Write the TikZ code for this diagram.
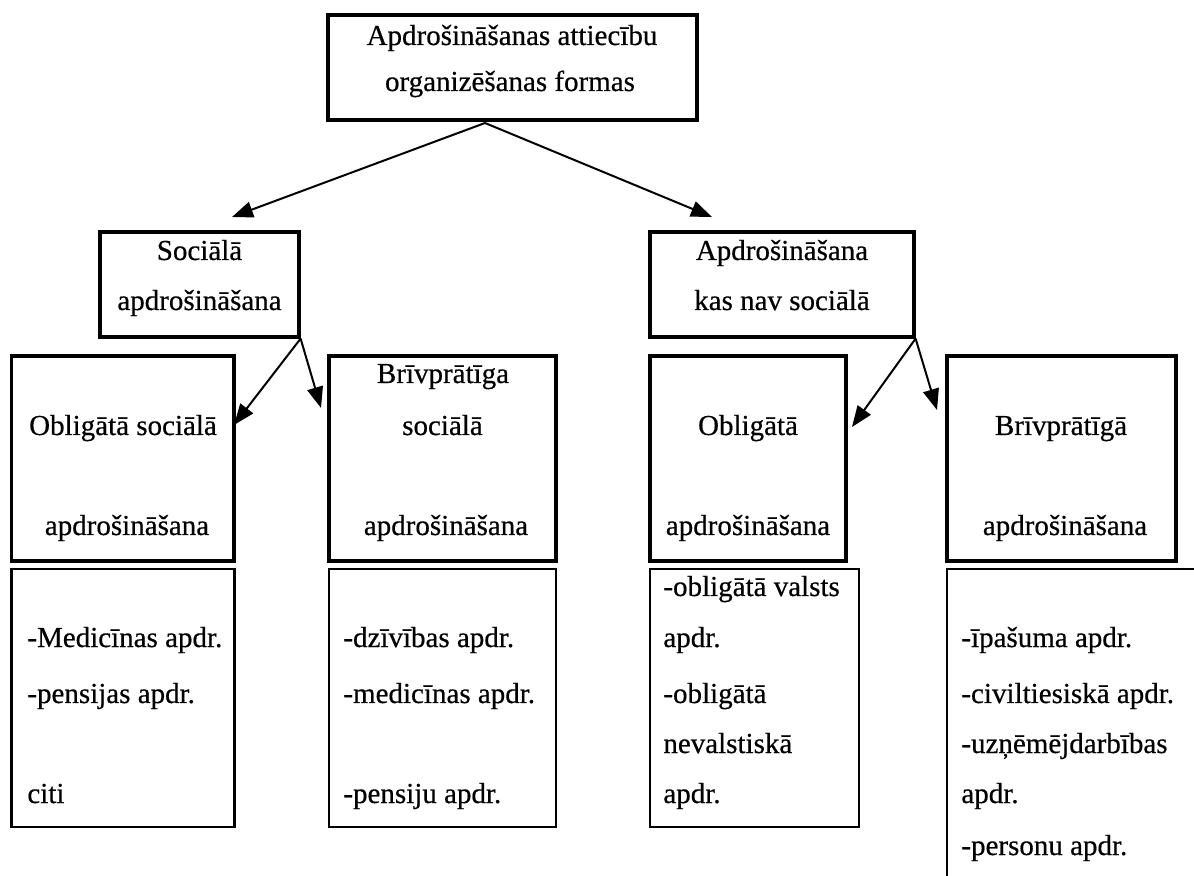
\documentclass[tikz,border=0pt]{standalone}
\usepackage{fontspec}
\setmainfont{Liberation Serif}[FakeBold=0.5]
\usetikzlibrary{arrows.meta}
\begin{document}
\begin{tikzpicture}[x=0.5pt,y=-0.5pt,
  upbox/.style={draw,line width=1.6pt,inner sep=0pt,minimum height=52.5pt},
  midbox/.style={draw,line width=1.6pt,inner sep=0pt,minimum height=102.5pt},
  listbox/.style={draw,line width=1.1pt,inner sep=0pt,minimum height=129pt},
  txt/.style={inner sep=0pt,anchor=base,font=\fontsize{14.5pt}{17pt}\selectfont},
  ltxt/.style={inner sep=0pt,anchor=base west,font=\fontsize{14.5pt}{17pt}\selectfont},
  arr/.style={line width=1pt,-{Triangle[length=10.5pt,width=8pt]}}]
\useasboundingbox (0,0) rectangle (1194,876);
\fill[white] (0,0) rectangle (1194,876);
\clip (0,0) rectangle (1194,876);

% boxes
\node[upbox,minimum width=184.5pt] (top) at (512.5,67.5) {};
\node[upbox,minimum width=99.5pt] (soc) at (199.5,284.5) {};
\node[upbox,minimum width=132pt] (nav) at (782,284.5) {};
\node[midbox,minimum width=111.25pt] (obs) at (122.75,458.5) {};
\node[midbox,minimum width=113.5pt] (brs) at (442.5,458.5) {};
\node[midbox,minimum width=98pt] (obl) at (748,458.5) {};
\node[midbox,minimum width=114.5pt] (brv) at (1061.5,458.5) {};
\node[listbox,minimum width=111.5pt] (l1) at (123,698) {};
\node[listbox,minimum width=113.5pt] (l2) at (442.5,698) {};
\node[listbox,minimum width=104.5pt] (l3) at (754.5,698) {};
\node[listbox,minimum width=131.5pt,minimum height=160.5pt] (l4) at (1078.5,729.5) {};

% texts
\node[txt] (top1) at (512,45) {Apdrošināšanas attiecību};
\node[txt] (top2) at (510,91) {organizēšanas formas};
\node[txt] (soc1) at (199.5,260) {Sociālā};
\node[txt] (soc2) at (199.5,310) {apdrošināšana};
\node[txt] (nav1) at (782,260) {Apdrošināšana};
\node[txt] (nav2) at (782,310) {kas nav sociālā};
\node[txt] (obs1) at (123,435) {Obligātā sociālā};
\node[txt] (obs2) at (127,535) {apdrošināšana};
\node[txt] (brs1) at (443,383) {Brīvprātīga};
\node[txt] (brs2) at (442.5,435) {sociālā};
\node[txt] (brs3) at (446,535) {apdrošināšana};
\node[txt] (obl1) at (748,435) {Obligātā};
\node[txt] (obl2) at (748,535) {apdrošināšana};
\node[txt] (brv1) at (1061,435) {Brīvprātīgā};
\node[txt] (brv2) at (1065,535) {apdrošināšana};

\node[ltxt] (a1) at (27,647) {-Medicīnas apdr.};
\node[ltxt] (a2) at (27,703) {-pensijas apdr.};
\node[ltxt] (a3) at (27,803) {citi};
\node[ltxt] (b1) at (343,647) {-dzīvības apdr.};
\node[ltxt] (b2) at (343,703) {-medicīnas apdr.};
\node[ltxt] (b3) at (343,803) {-pensiju apdr.};
\node[ltxt] (c1) at (663,596) {-obligātā valsts};
\node[ltxt] (c2) at (663,647) {apdr.};
\node[ltxt] (c3) at (663,703) {-obligātā};
\node[ltxt] (c4) at (663,753) {nevalstiskā};
\node[ltxt] (c5) at (663,803) {apdr.};
\node[ltxt] (d1) at (961,647) {-īpašuma apdr.};
\node[ltxt] (d2) at (961,703) {-civiltiesiskā apdr.};
\node[ltxt] (d3) at (961,753) {-uzņēmējdarbības};
\node[ltxt] (d4) at (961,803) {apdr.};
\node[ltxt] (d5) at (961,855) {-personu apdr.};

% connector points
\coordinate (ts) at (485,123);
\coordinate (t1) at (232,217);
\coordinate (t2) at (712,217);
\coordinate (t3) at (234,425);
\coordinate (t4) at (321,408);
\coordinate (t5) at (852,427);
\coordinate (t6) at (937,410);

\draw[arr] (ts) -- (t1);
\draw[arr] (ts) -- (t2);
\draw[arr] (soc.south east) -- (t3);
\draw[arr] (soc.south east) -- (t4);
\draw[arr] (nav.south east) -- (t5);
\draw[arr] (nav.south east) -- (t6);
\end{tikzpicture}
\end{document}
